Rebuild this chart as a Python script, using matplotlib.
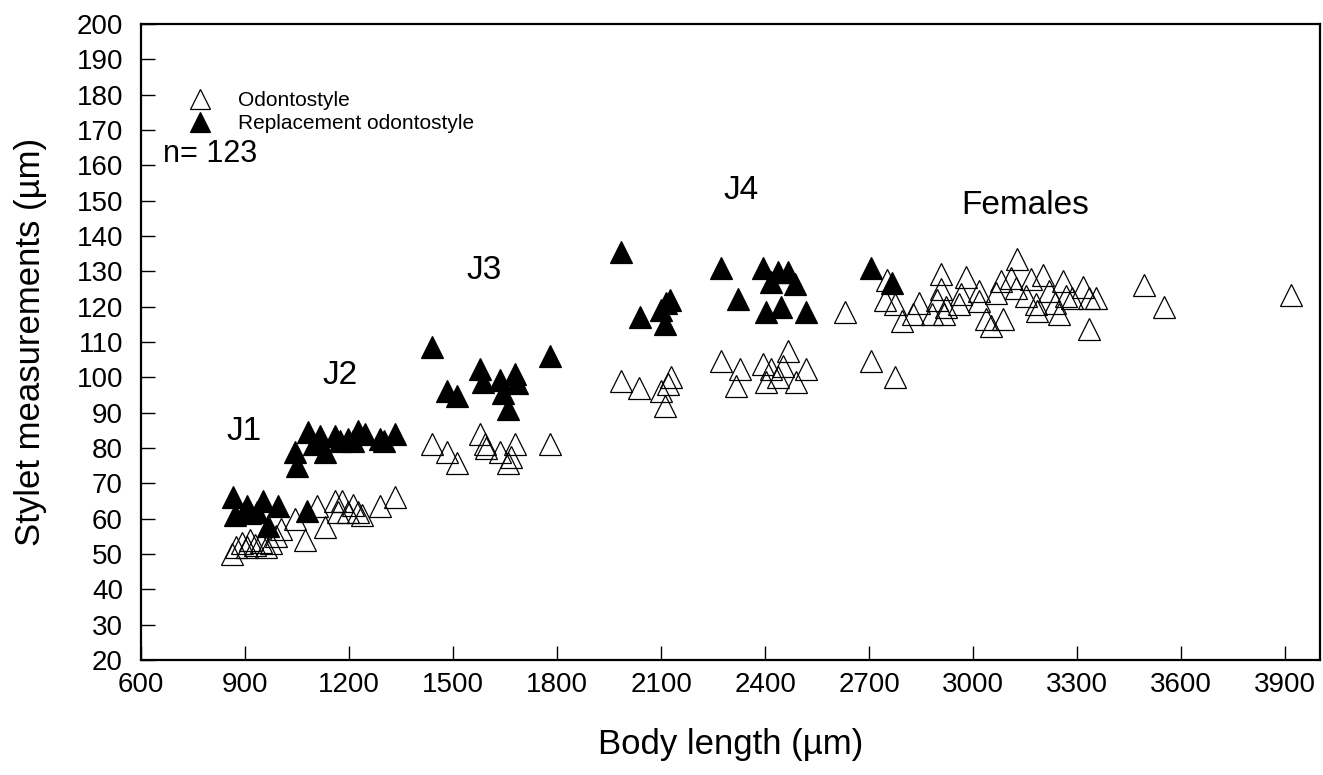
import matplotlib
matplotlib.use('Agg')
import matplotlib.pyplot as plt

plt.rcParams['font.family'] = ['Liberation Sans', 'DejaVu Sans']

# odontostyle (open triangles)
odonto_x = [862, 875, 890, 905, 915, 930, 945, 960, 975, 990, 1005,
            1044, 1073, 1107, 1130, 1159, 1168, 1179, 1197, 1210, 1225, 1237, 1289, 1332,
            1438, 1481, 1510, 1577, 1591, 1596, 1635, 1658, 1668, 1678, 1779,
            1985, 2035, 2100, 2110, 2119, 2128,
            2273, 2317, 2326, 2393, 2403, 2417, 2437, 2451, 2465, 2489, 2518,
            2629, 2705, 2773,
            2745, 2750, 2773, 2796, 2825, 2845, 2880, 2897, 2907, 2907, 2917, 2922,
            2960, 2965, 2979, 3018, 3018, 3037, 3050, 3066, 3080, 3085, 3110, 3123,
            3127, 3152, 3167, 3181, 3185, 3200, 3220, 3235, 3248, 3258, 3268, 3286,
            3316, 3335, 3335, 3354, 3493, 3551, 3916]
odonto_y = [50, 52, 53, 52, 54, 52.5, 53.5, 52, 53, 55, 57,
            60, 54, 63.6, 57.6, 65, 62, 65, 62, 64, 62, 61, 63.6, 66,
            81, 79, 75.8, 84, 81, 80, 79, 75.8, 77.4, 81, 81,
            99, 97, 96, 92, 98, 100,
            104.6, 97.5, 102.4, 103.8, 98.7, 102.4, 100, 103.2, 107.4, 98.7, 102.4,
            118.5, 104.6, 100,
            122, 127.5, 120.8, 116, 118, 121, 118, 122, 125, 129.2, 118, 120,
            120.8, 123.6, 128.4, 124.5, 121.6, 116.6, 114.5, 124, 127.3, 116.6, 128, 125.3,
            133.5, 123, 127.8, 120.8, 118.8, 129, 124.5, 121, 118, 127.3, 123, 122.5,
            125.6, 122.5, 113.7, 122.5, 126, 120, 123.4]

# replacement odontostyle (filled triangles)
repl_x = [865, 872, 905, 915, 935, 952, 966, 995, 1078,
          1044, 1050, 1081, 1100, 1116, 1130, 1159, 1175, 1197, 1210, 1225, 1246, 1289, 1300, 1332,
          1439, 1481, 1510, 1577, 1586, 1635, 1645, 1658, 1678, 1685, 1779,
          1985, 2040, 2100, 2110, 2115, 2125,
          2273, 2321, 2393, 2403, 2417, 2437, 2446, 2465, 2485, 2518,
          2705, 2767]
repl_y = [66, 61, 63.5, 61.5, 62, 65, 58, 63.5, 62.2,
          78.9, 74.9, 84.5, 81, 83.4, 79, 83.4, 82, 82.5, 82, 84.8, 84, 82.5, 82, 84,
          108.5, 96.2, 94.8, 102.4, 98.7, 99.2, 95.6, 91, 101, 98.4, 106,
          135.5, 117, 119, 115, 121, 122,
          131, 122.2, 131, 118.5, 127, 129.8, 120, 129.8, 126.4, 118.5,
          131, 126.7]

stage_labels = ['J1', 'J2', 'J3', 'J4', 'Females']
stage_x = [897, 1175, 1590, 2330, 3150]
stage_y = [84.8, 100.6, 130.2, 152.8, 148.6]

fig = plt.figure(figsize=(13.23, 7.75), dpi=100)
ax = fig.add_axes([0.1066, 0.1484, 0.8911, 0.8206])

ax.plot(odonto_x, odonto_y, '^', ms=15.5, mfc='none', mec='black', mew=0.9,
        label='Odontostyle')
ax.plot(repl_x, repl_y, '^', ms=15.5, mfc='black', mec='black', mew=0.9,
        label='Replacement odontostyle')

for lab, x, y in zip(stage_labels, stage_x, stage_y):
    ax.text(x, y, lab, fontsize=24, ha='center', va='center')

ax.text(0.019, 0.795, 'n= 123', transform=ax.transAxes, fontsize=22,
        ha='left', va='center')

ax.legend(loc='upper left', bbox_to_anchor=(0.025, 0.908), frameon=False,
          fontsize=15, handletextpad=0.85, labelspacing=0.22, markerscale=0.95,
          borderaxespad=0)

ax.set_xlim(600, 4000)
ax.set_ylim(20, 200)
ax.set_xticks(range(600, 4000, 300))
ax.set_yticks(range(20, 201, 10))
ax.tick_params(direction='in', length=10, width=1, labelsize=20)
ax.tick_params(axis='x', pad=9)
ax.tick_params(axis='y', pad=13)
for s in ax.spines.values():
    s.set_linewidth(1.6)

ax.set_xlabel('Body length (µm)', fontsize=25, labelpad=21)
ax.set_ylabel('Stylet measurements (µm)', fontsize=25, labelpad=21)

fig.savefig('out.png', dpi=100)
